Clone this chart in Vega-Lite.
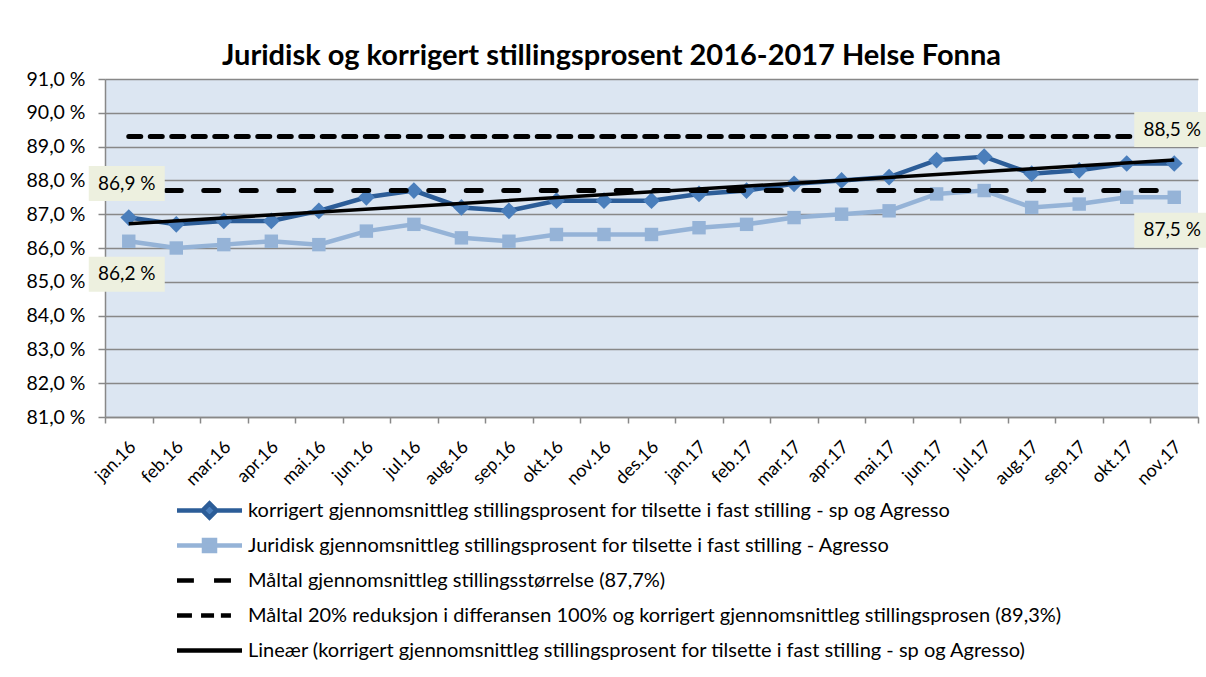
{
  "$schema": "https://vega.github.io/schema/vega-lite/v6.json",
  "width": 1093,
  "height": 338,
  "autosize": {"type": "none"},
  "padding": {"left": 105, "top": 79, "right": 8, "bottom": 260},
  "background": "white",
  "config": {
    "font": "Lato",
    "view": {"fill": "#DCE6F2", "stroke": null},
    "legend": {"padding": 0}
  },
  "title": {
    "text": "Juridisk og korrigert stillingsprosent 2016-2017 Helse Fonna",
    "font": "Lato",
    "fontSize": 29,
    "fontWeight": "bold",
    "color": "black",
    "anchor": "middle",
    "dx": -40,
    "offset": -2
  },
  "datasets": {
    "series": [
      {"month": "jan.16", "s": "korrigert", "v": 86.9},
      {"month": "feb.16", "s": "korrigert", "v": 86.7},
      {"month": "mar.16", "s": "korrigert", "v": 86.8},
      {"month": "apr.16", "s": "korrigert", "v": 86.8},
      {"month": "mai.16", "s": "korrigert", "v": 87.1},
      {"month": "jun.16", "s": "korrigert", "v": 87.5},
      {"month": "jul.16", "s": "korrigert", "v": 87.7},
      {"month": "aug.16", "s": "korrigert", "v": 87.2},
      {"month": "sep.16", "s": "korrigert", "v": 87.1},
      {"month": "okt.16", "s": "korrigert", "v": 87.4},
      {"month": "nov.16", "s": "korrigert", "v": 87.4},
      {"month": "des.16", "s": "korrigert", "v": 87.4},
      {"month": "jan.17", "s": "korrigert", "v": 87.6},
      {"month": "feb.17", "s": "korrigert", "v": 87.7},
      {"month": "mar.17", "s": "korrigert", "v": 87.9},
      {"month": "apr.17", "s": "korrigert", "v": 88.0},
      {"month": "mai.17", "s": "korrigert", "v": 88.1},
      {"month": "jun.17", "s": "korrigert", "v": 88.6},
      {"month": "jul.17", "s": "korrigert", "v": 88.7},
      {"month": "aug.17", "s": "korrigert", "v": 88.2},
      {"month": "sep.17", "s": "korrigert", "v": 88.3},
      {"month": "okt.17", "s": "korrigert", "v": 88.5},
      {"month": "nov.17", "s": "korrigert", "v": 88.5},
      {"month": "jan.16", "s": "juridisk", "v": 86.2},
      {"month": "feb.16", "s": "juridisk", "v": 86.0},
      {"month": "mar.16", "s": "juridisk", "v": 86.1},
      {"month": "apr.16", "s": "juridisk", "v": 86.2},
      {"month": "mai.16", "s": "juridisk", "v": 86.1},
      {"month": "jun.16", "s": "juridisk", "v": 86.5},
      {"month": "jul.16", "s": "juridisk", "v": 86.7},
      {"month": "aug.16", "s": "juridisk", "v": 86.3},
      {"month": "sep.16", "s": "juridisk", "v": 86.2},
      {"month": "okt.16", "s": "juridisk", "v": 86.4},
      {"month": "nov.16", "s": "juridisk", "v": 86.4},
      {"month": "des.16", "s": "juridisk", "v": 86.4},
      {"month": "jan.17", "s": "juridisk", "v": 86.6},
      {"month": "feb.17", "s": "juridisk", "v": 86.7},
      {"month": "mar.17", "s": "juridisk", "v": 86.9},
      {"month": "apr.17", "s": "juridisk", "v": 87.0},
      {"month": "mai.17", "s": "juridisk", "v": 87.1},
      {"month": "jun.17", "s": "juridisk", "v": 87.6},
      {"month": "jul.17", "s": "juridisk", "v": 87.7},
      {"month": "aug.17", "s": "juridisk", "v": 87.2},
      {"month": "sep.17", "s": "juridisk", "v": 87.3},
      {"month": "okt.17", "s": "juridisk", "v": 87.5},
      {"month": "nov.17", "s": "juridisk", "v": 87.5},
      {"month": "jan.16", "s": "maal1", "v": 87.7},
      {"month": "nov.17", "s": "maal1", "v": 87.7},
      {"month": "jan.16", "s": "maal2", "v": 89.3},
      {"month": "nov.17", "s": "maal2", "v": 89.3},
      {"month": "jan.16", "s": "trend", "v": 86.72},
      {"month": "nov.17", "s": "trend", "v": 88.6}
    ],
    "labels": [
      {"month": "jan.16", "v": 86.9, "label": "86,9 %", "pos": "above"},
      {"month": "nov.17", "v": 88.5, "label": "88,5 %", "pos": "above"},
      {"month": "jan.16", "v": 86.2, "label": "86,2 %", "pos": "below"},
      {"month": "nov.17", "v": 87.5, "label": "87,5 %", "pos": "below"}
    ],
    "legend": [
      {"series": "korrigert gjennomsnittleg stillingsprosent for tilsette i fast stilling  - sp og Agresso"},
      {"series": "Juridisk gjennomsnittleg stillingsprosent for tilsette i fast stilling - Agresso"},
      {"series": "Måltal gjennomsnittleg stillingsstørrelse (87,7%)"},
      {"series": "Måltal 20% reduksjon i differansen 100% og korrigert gjennomsnittleg stillingsprosen (89,3%)"},
      {"series": "Lineær (korrigert gjennomsnittleg stillingsprosent for tilsette i fast stilling  - sp og Agresso)"}
    ]
  },
  "encoding": {
    "x": {
      "field": "month",
      "type": "ordinal",
      "sort": null,
      "scale": {
        "type": "band",
        "paddingInner": 0,
        "paddingOuter": 0,
        "domain": ["jan.16","feb.16","mar.16","apr.16","mai.16","jun.16","jul.16","aug.16","sep.16","okt.16","nov.16","des.16","jan.17","feb.17","mar.17","apr.17","mai.17","jun.17","jul.17","aug.17","sep.17","okt.17","nov.17"]
      },
      "axis": {
        "title": null,
        "labelAngle": -45,
        "labelAlign": "right",
        "labelBaseline": "middle",
        "labelFontSize": 18,
        "labelColor": "black",
        "labelPadding": 21,
        "labelOffset": 4,
        "labelOverlap": false,
        "tickBand": "extent",
        "tickSize": 6,
        "tickColor": "#888888",
        "tickWidth": 1.5,
        "domainColor": "#888888",
        "domainWidth": 1.5,
        "grid": false
      }
    },
    "y": {
      "field": "v",
      "type": "quantitative",
      "scale": {"domain": [81, 91], "nice": false, "zero": false},
      "axis": {
        "title": null,
        "values": [81, 82, 83, 84, 85, 86, 87, 88, 89, 90, 91],
        "labelExpr": "replace(format(datum.value, '.1f'), '.', ',') + ' %'",
        "labelFontSize": 19.5,
        "labelColor": "black",
        "labelPadding": 13,
        "labelOverlap": false,
        "tickSize": 7,
        "tickColor": "#888888",
        "tickWidth": 1.5,
        "domainColor": "#888888",
        "domainWidth": 1.5,
        "grid": true,
        "gridColor": "#888888",
        "gridWidth": 1.5
      }
    }
  },
  "layer": [
    {
      "data": {"name": "series"},
      "transform": [{"filter": "datum.s == 'juridisk'"}],
      "layer": [
        {"mark": {"type": "line", "color": "#95B3D7", "strokeWidth": 4.5}},
        {"mark": {"type": "point", "shape": "square", "filled": true, "opacity": 1, "size": 180, "color": "#95B3D7"}}
      ]
    },
    {
      "data": {"name": "series"},
      "transform": [{"filter": "datum.s == 'korrigert'"}],
      "layer": [
        {"mark": {"type": "line", "color": "#2C5D98", "strokeWidth": 4.5}},
        {"mark": {"type": "point", "shape": "diamond", "filled": true, "opacity": 1, "size": 280, "color": "#4A7EBB"}}
      ]
    },
    {
      "data": {"name": "series"},
      "transform": [{"filter": "datum.s == 'maal1'"}],
      "mark": {"type": "line", "color": "black", "strokeWidth": 5, "strokeDash": [15, 22.5], "strokeCap": "round"}
    },
    {
      "data": {"name": "series"},
      "transform": [{"filter": "datum.s == 'maal2'"}],
      "mark": {"type": "line", "color": "black", "strokeWidth": 5, "strokeDash": [12, 9.5], "strokeCap": "round"}
    },
    {
      "data": {"name": "series"},
      "transform": [{"filter": "datum.s == 'trend'"}],
      "mark": {"type": "line", "color": "black", "strokeWidth": 3.5}
    },
    {
      "data": {"name": "labels"},
      "transform": [{"filter": "datum.pos == 'above'"}],
      "layer": [
        {
          "mark": {"type": "point", "shape": "M-1,-0.46H1V0.46H-1Z", "filled": true, "opacity": 1, "size": 5776, "color": "#EDF0DF", "xOffset": -2, "yOffset": -34}
        },
        {
          "mark": {"type": "text", "fontSize": 19, "color": "black", "align": "center", "baseline": "middle", "xOffset": -2, "yOffset": -34},
          "encoding": {"text": {"field": "label"}}
        }
      ]
    },
    {
      "data": {"name": "labels"},
      "transform": [{"filter": "datum.pos == 'below'"}],
      "layer": [
        {
          "mark": {"type": "point", "shape": "M-1,-0.46H1V0.46H-1Z", "filled": true, "opacity": 1, "size": 5776, "color": "#EDF0DF", "xOffset": -2, "yOffset": 33}
        },
        {
          "mark": {"type": "text", "fontSize": 19, "color": "black", "align": "center", "baseline": "middle", "xOffset": -2, "yOffset": 33},
          "encoding": {"text": {"field": "label"}}
        }
      ]
    },
    {
      "data": {"name": "legend"},
      "mark": {"type": "point", "opacity": 0, "size": 0},
      "encoding": {
        "x": {"value": 0},
        "y": {"value": 0},
        "fill": {
          "field": "series",
          "type": "nominal",
          "sort": null,
          "scale": {
            "domain": [
              "korrigert gjennomsnittleg stillingsprosent for tilsette i fast stilling  - sp og Agresso",
              "Juridisk gjennomsnittleg stillingsprosent for tilsette i fast stilling - Agresso",
              "Måltal gjennomsnittleg stillingsstørrelse (87,7%)",
              "Måltal 20% reduksjon i differansen 100% og korrigert gjennomsnittleg stillingsprosen (89,3%)",
              "Lineær (korrigert gjennomsnittleg stillingsprosent for tilsette i fast stilling  - sp og Agresso)"
            ],
            "range": ["#4A7EBB", "#95B3D7", "transparent", "transparent", "transparent"]
          },
          "legend": {
            "title": null,
            "orient": "none",
            "legendX": 92,
            "legendY": 419,
            "direction": "vertical",
            "gridAlign": "all",
            "labelFontSize": 20,
            "labelColor": "black",
            "labelLimit": 0,
            "labelOffset": 26,
            "rowPadding": 4,
            "symbolSize": 400,
            "symbolStrokeWidth": 4.5,
            "symbolOpacity": 1
          }
        },
        "stroke": {
          "field": "series",
          "type": "nominal",
          "sort": null,
          "scale": {
            "domain": [
              "korrigert gjennomsnittleg stillingsprosent for tilsette i fast stilling  - sp og Agresso",
              "Juridisk gjennomsnittleg stillingsprosent for tilsette i fast stilling - Agresso",
              "Måltal gjennomsnittleg stillingsstørrelse (87,7%)",
              "Måltal 20% reduksjon i differansen 100% og korrigert gjennomsnittleg stillingsprosen (89,3%)",
              "Lineær (korrigert gjennomsnittleg stillingsprosent for tilsette i fast stilling  - sp og Agresso)"
            ],
            "range": ["#2C5D98", "#95B3D7", "black", "black", "black"]
          },
          "legend": {
            "title": null,
            "orient": "none",
            "legendX": 92,
            "legendY": 419,
            "direction": "vertical",
            "gridAlign": "all",
            "labelFontSize": 20,
            "labelColor": "black",
            "labelLimit": 0,
            "labelOffset": 26,
            "rowPadding": 4,
            "symbolSize": 400,
            "symbolStrokeWidth": 4.5,
            "symbolOpacity": 1
          }
        },
        "shape": {
          "field": "series",
          "type": "nominal",
          "sort": null,
          "scale": {
            "domain": [
              "korrigert gjennomsnittleg stillingsprosent for tilsette i fast stilling  - sp og Agresso",
              "Juridisk gjennomsnittleg stillingsprosent for tilsette i fast stilling - Agresso",
              "Måltal gjennomsnittleg stillingsstørrelse (87,7%)",
              "Måltal 20% reduksjon i differansen 100% og korrigert gjennomsnittleg stillingsprosen (89,3%)",
              "Lineær (korrigert gjennomsnittleg stillingsprosent for tilsette i fast stilling  - sp og Agresso)"
            ],
            "range": [
              "M-3.25,0H-0.7M0.7,0H3.25M-0.7,0L0,-0.7L0.7,0L0,0.7Z",
              "M-3.25,0H3.25M-0.55,-0.55H0.55V0.55H-0.55Z",
              "M-3.25,0H-1.56M0.455,0H2.145",
              "M-3.25,0H-1.755M-0.845,0H0.455M1.1375,0H2.145",
              "M-3.25,0H3.25"
            ]
          },
          "legend": {
            "title": null,
            "orient": "none",
            "legendX": 92,
            "legendY": 419,
            "direction": "vertical",
            "gridAlign": "all",
            "labelFontSize": 20,
            "labelColor": "black",
            "labelLimit": 0,
            "labelOffset": 26,
            "rowPadding": 4,
            "symbolSize": 400,
            "symbolStrokeWidth": 4.5,
            "symbolOpacity": 1
          }
        }
      }
    }
  ]
}
